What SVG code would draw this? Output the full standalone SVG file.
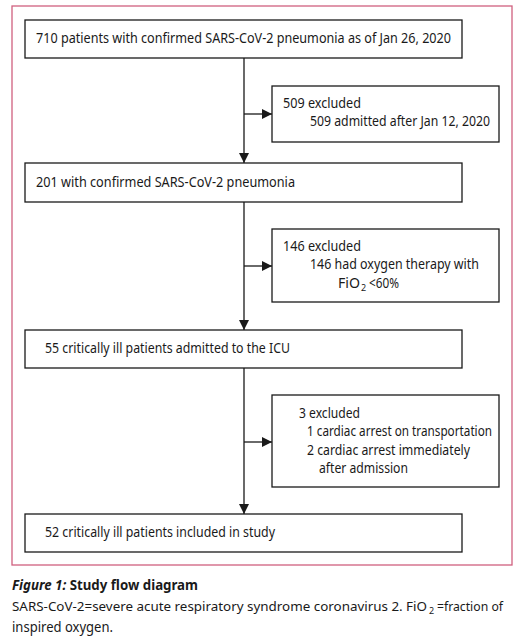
<svg xmlns="http://www.w3.org/2000/svg" width="528" height="641" viewBox="0 0 528 641">
<defs>
<style>
.box{fill:#fff;stroke:#1a1a1a;stroke-width:1.3}
.t{font-family:"Noto Sans","Open Sans",sans-serif;font-size:14px;fill:#1a1a1a}
.c{font-family:"Noto Sans","Open Sans",sans-serif;font-size:14px;fill:#1a1a1a}
.c2{font-family:"Noto Sans","Open Sans",sans-serif;font-size:12.8px;fill:#1a1a1a}
.sub{font-family:"Noto Sans","Open Sans",sans-serif;font-size:9px;fill:#1a1a1a}
.ln{stroke:#1a1a1a;stroke-width:1.3;fill:none}
</style>
<marker id="ah" viewBox="0 0 10 10" refX="10" refY="5" markerWidth="10" markerHeight="10" markerUnits="userSpaceOnUse" orient="auto">
<path d="M0,0 L10,5 L0,10 Z" fill="#1a1a1a"/>
</marker>
</defs>
<rect width="528" height="641" fill="#fff"/>
<rect x="12" y="6" width="500" height="559" fill="none" stroke="#d0607f" stroke-width="1.3"/>
<g id="connectors">
<line class="ln" x1="244" y1="58" x2="244" y2="163" marker-end="url(#ah)"/>
<line class="ln" x1="244" y1="114" x2="272" y2="114" marker-end="url(#ah)"/>
<line class="ln" x1="244" y1="202" x2="244" y2="330" marker-end="url(#ah)"/>
<line class="ln" x1="244" y1="266" x2="272" y2="266" marker-end="url(#ah)"/>
<line class="ln" x1="244" y1="368" x2="244" y2="514" marker-end="url(#ah)"/>
<line class="ln" x1="244" y1="442" x2="272" y2="442" marker-end="url(#ah)"/>
</g>
<g id="n1">
<rect class="box" x="25" y="20" width="437" height="38"/>
<text class="t" x="36" y="43" textLength="415" lengthAdjust="spacingAndGlyphs">710 patients with confirmed SARS-CoV-2 pneumonia as of Jan 26, 2020</text>
</g>
<g id="n2">
<rect class="box" x="272" y="86" width="227" height="56"/>
<text class="t" x="283" y="108" textLength="78" lengthAdjust="spacingAndGlyphs">509 excluded</text>
<text class="t" x="310" y="126" textLength="180" lengthAdjust="spacingAndGlyphs">509 admitted after Jan 12, 2020</text>
</g>
<g id="n3">
<rect class="box" x="25" y="163" width="437" height="39"/>
<text class="t" x="36" y="187" textLength="259" lengthAdjust="spacingAndGlyphs">201 with confirmed SARS-CoV-2 pneumonia</text>
</g>
<g id="n4">
<rect class="box" x="272" y="229" width="227" height="73"/>
<text class="t" x="283" y="251" textLength="78" lengthAdjust="spacingAndGlyphs">146 excluded</text>
<text class="t" x="310" y="269" textLength="169" lengthAdjust="spacingAndGlyphs">146 had oxygen therapy with</text>
<text class="t" x="338" y="288" textLength="22" lengthAdjust="spacingAndGlyphs">FiO</text>
<text class="sub" x="361" y="291">2</text>
<text class="t" x="369" y="288" textLength="30" lengthAdjust="spacingAndGlyphs">&lt;60%</text>
</g>
<g id="n5">
<rect class="box" x="25" y="330" width="437" height="38"/>
<text class="t" x="45" y="353" textLength="245" lengthAdjust="spacingAndGlyphs">55 critically ill patients admitted to the ICU</text>
</g>
<g id="n6">
<rect class="box" x="272" y="395" width="227" height="92"/>
<text class="t" x="299" y="418" textLength="61" lengthAdjust="spacingAndGlyphs">3 excluded</text>
<text class="t" x="307" y="436" textLength="185" lengthAdjust="spacingAndGlyphs">1 cardiac arrest on transportation</text>
<text class="t" x="307" y="455" textLength="163" lengthAdjust="spacingAndGlyphs">2 cardiac arrest immediately</text>
<text class="t" x="319" y="473" textLength="89" lengthAdjust="spacingAndGlyphs">after admission</text>
</g>
<g id="n7">
<rect class="box" x="25" y="514" width="437" height="38"/>
<text class="t" x="45" y="537" textLength="230" lengthAdjust="spacingAndGlyphs">52 critically ill patients included in study</text>
</g>
<g id="caption">
<text class="c" x="12" y="590" font-weight="bold" textLength="186" lengthAdjust="spacingAndGlyphs"><tspan font-style="italic">Figure 1:</tspan> Study flow diagram</text>
<text class="c2" x="12" y="611" textLength="415" lengthAdjust="spacingAndGlyphs">SARS-CoV-2=severe acute respiratory syndrome coronavirus 2. FiO</text>
<text class="sub" x="429" y="614">2</text>
<text class="c2" x="437" y="611" textLength="66" lengthAdjust="spacingAndGlyphs">=fraction of</text>
<text class="c" x="12" y="632" textLength="101" lengthAdjust="spacingAndGlyphs">inspired oxygen.</text>
</g>
</svg>
